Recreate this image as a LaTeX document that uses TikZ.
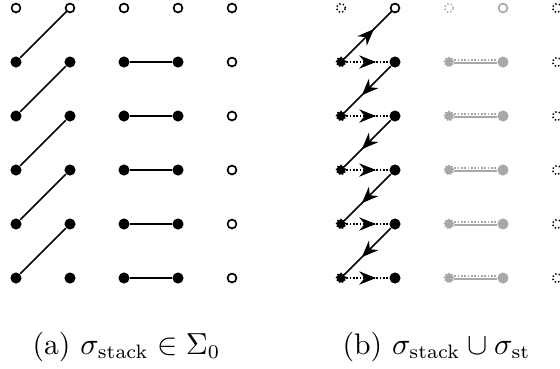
\documentclass[tikz,border=0pt]{standalone}
\usetikzlibrary{decorations.markings,arrows.meta}
\definecolor{lgray}{gray}{0.66}
\begin{document}
\begin{tikzpicture}[x=0.36pt,y=-0.36pt,
  edge/.style={line width=0.6pt},
  dotline/.style={dash pattern=on 0.6pt off 0.6pt},
  fdot/.style={circle,fill=#1,inner sep=0pt,minimum size=4pt},
  fdot/.default=black,
  odot/.style={circle,draw=#1,fill=white,line width=0.6pt,inner sep=0pt,minimum size=3.2pt},
  odot/.default=black,
  ddot/.style={circle,draw=#1,line width=0.55pt,dash pattern=on 0.5pt off 0.8pt,inner sep=0pt,minimum size=3.2pt},
  ddot/.default=black,
  sdot/.style={circle,fill=#1,draw=#1,line width=0.6pt,dash pattern=on 0.5pt off 0.6pt,inner sep=0pt,minimum size=3.2pt},
  sdot/.default=black,
  midarrow/.style={postaction={decorate},decoration={markings,
    mark=at position 0.5 with {\arrow[xshift=3pt]{Stealth[length=6pt,width=4.8pt]}}}},
  captext/.style={anchor=base west,inner sep=0pt,font=\fontsize{10.7}{13}\selectfont}
]
\useasboundingbox (0,0) rectangle (560,368);

% ---------- panel (a) ----------
\foreach \c in {1,2,3,4}{
  \node[odot] (L\c-1) at ({16+54*(\c-1)},8) {};
  \foreach \i in {2,...,6}{
    \node[fdot] (L\c-\i) at ({16+54*(\c-1)},{8+54*(\i-1)}) {};
  }
}
\foreach \i in {1,...,6}{
  \node[odot] (L5-\i) at (232,{8+54*(\i-1)}) {};
}
\foreach \i [evaluate=\i as \j using int(\i-1)] in {2,...,6}{
  \draw[edge] (L1-\i) -- (L2-\j);
}
\foreach \i in {2,...,6}{
  \draw[edge] (L3-\i) -- (L4-\i);
}

% ---------- panel (b) ----------
\node[ddot] (R1-1) at (341,8) {};
\node[odot] (R2-1) at (395,8) {};
\node[ddot=lgray] (R3-1) at (449,8) {};
\node[odot=lgray] (R4-1) at (503,8) {};
\foreach \i in {2,...,6}{
  \node[sdot] (R1-\i) at (341,{8+54*(\i-1)}) {};
  \node[fdot] (R2-\i) at (395,{8+54*(\i-1)}) {};
  \node[sdot=lgray] (R3-\i) at (449,{8+54*(\i-1)}) {};
  \node[fdot=lgray] (R4-\i) at (503,{8+54*(\i-1)}) {};
}
\foreach \i in {1,...,6}{
  \node[ddot] (R5-\i) at (557,{8+54*(\i-1)}) {};
}
\draw[edge,midarrow] (R1-2) -- (R2-1);
\foreach \i in {2,...,6}{
  \draw[edge,dotline,midarrow] (R1-\i) -- (R2-\i);
  \draw[edge,lgray] ([yshift=-0.4pt]R3-\i.east) -- ([yshift=-0.4pt]R4-\i.west);
  \draw[edge,lgray,dotline] ([yshift=0.8pt]R3-\i.east) -- ([yshift=0.8pt]R4-\i.west);
}
\foreach \i [evaluate=\i as \j using int(\i+1)] in {2,...,5}{
  \draw[edge,midarrow] (R2-\i) -- (R1-\j);
}

% ---------- captions ----------
\node[captext] (capa) at (32,354) {(a) $\sigma_{\mathrm{stack}}\in\Sigma_0$};
\node[captext] (capb) at (342,354) {(b) $\sigma_{\mathrm{stack}}\cup\sigma_{\mathrm{st}}$};
\end{tikzpicture}
\end{document}
